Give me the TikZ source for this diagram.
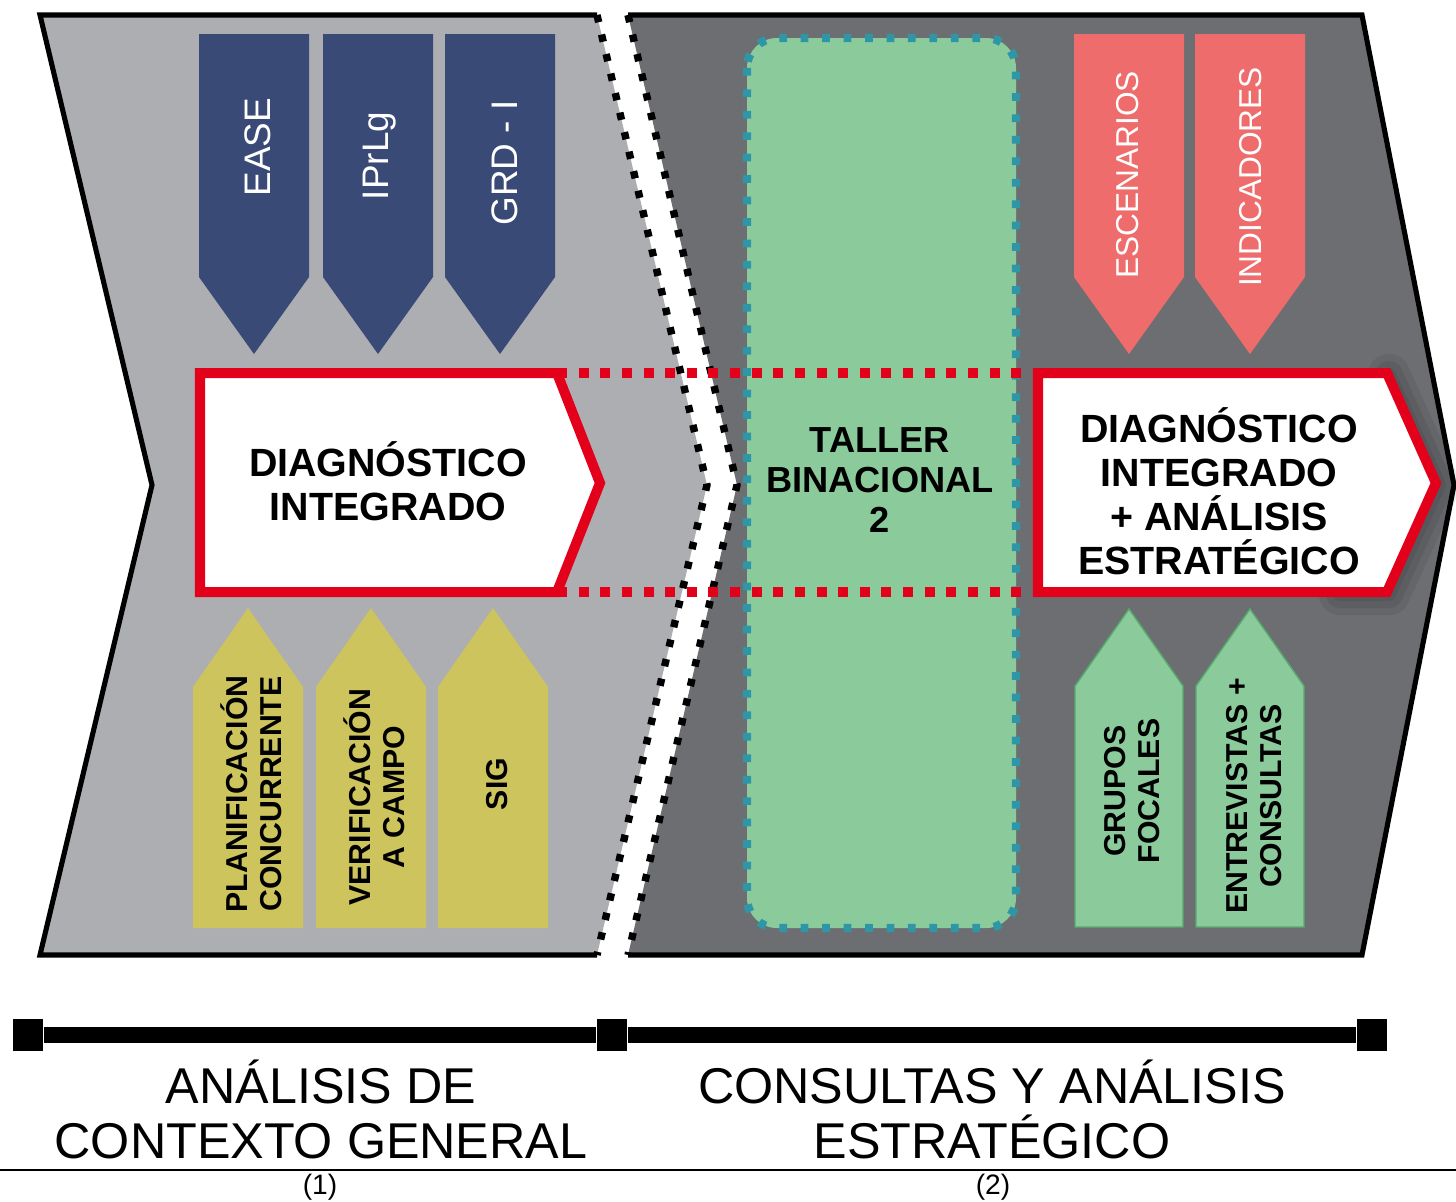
\documentclass[tikz,border=0pt]{standalone}
\usepackage{fontspec}
\setmainfont{Liberation Sans}
\usetikzlibrary{positioning}

\definecolor{lightpanel}{RGB}{173,174,177}
\definecolor{darkpanel}{RGB}{109,110,113}
\definecolor{navyarrow}{RGB}{57,74,118}
\definecolor{mustard}{RGB}{205,196,94}
\definecolor{salmon}{RGB}{238,108,108}
\definecolor{mint}{RGB}{139,203,155}
\definecolor{mintline}{RGB}{86,170,110}
\definecolor{tealdot}{RGB}{46,150,166}
\definecolor{diagred}{RGB}{227,0,27}

\tikzset{
  rim/.style={line width=1.45pt},
  sepdots/.style={line width=2.1pt, dash pattern=on 2.1pt off 3.6pt},
  reddots/.style={draw=diagred, line width=2.85pt, dash pattern=on 2.85pt off 3.3pt},
  diagbox/.style={draw=diagred, fill=white, line width=2.85pt},
  toplbl/.style={rotate=90, white, font=\fontsize{10.5}{12}\selectfont},
  sidelbl/.style={rotate=90, align=center, font=\bfseries\fontsize{8.6}{9.7}\selectfont},
  boxlbl/.style={align=center, font=\bfseries\fontsize{11.2}{12.5}\selectfont},
  phasetick/.style={fill=black, inner sep=0pt, minimum width=8.5pt, minimum height=9.1pt},
  phaselbl/.style={align=center, font=\fontsize{14.3}{15.6}\selectfont},
}

\begin{document}
\begin{tikzpicture}[x=0.01cm, y=-0.01cm]
  \useasboundingbox (0,0) rectangle (1456,1202);

  % phase panels
  \fill[lightpanel] (40,15) -- (597,15) -- (707,485) -- (597,955) -- (40,955) -- (152,485) -- cycle;
  \fill[darkpanel] (628,15) -- (1362,15) -- (1454,485) -- (1362,955) -- (628,955) -- (737,485) -- cycle;
  \draw[rim] (597,15) -- (40,15) -- (152,485) -- (40,955) -- (597,955);
  \draw[rim] (628,15) -- (1362,15) -- (1454,485) -- (1362,955) -- (628,955);
  \draw[sepdots] (597,15) -- (707,485) -- (597,955);
  \draw[sepdots] (628,15) -- (737,485) -- (628,955);

  % taller
  \draw[tealdot, fill=mint, line width=2.4pt, dash pattern=on 2.2pt off 3.9pt, rounded corners=8.5pt]
    (747,38) rectangle (1016,928);
  \node[boxlbl, font=\bfseries\fontsize{10.3}{11.4}\selectfont] (taller) at (880,480) {TALLER\\BINACIONAL\\2};

  % diagnostico boxes
  \coordinate (d1n) at (557,373);
  \coordinate (d1s) at (557,592);
  \coordinate (d2n) at (1038,373);
  \coordinate (d2s) at (1038,592);
  \draw[reddots] (d1n) -- (d2n);
  \draw[reddots] (d1s) -- (d2s);
  \draw[diagbox] (200,373) -- (d1n) -- (600,483) -- (d1s) -- (200,592) -- cycle;
  \foreach \w in {12,8,4}
    \draw[black, opacity=0.07, line width=\w pt, line join=round, line cap=round] (1389,375) -- (1439,485) -- (1389,594) -- (1340,594);
  \draw[diagbox] (d2n) -- (1387,373) -- (1436,483) -- (1387,592) -- (d2s) -- cycle;
  \node[boxlbl] (diag1) at (388,481) {DIAGNÓSTICO\\INTEGRADO};
  \node[boxlbl] (diag2) at (1219,491) {DIAGNÓSTICO\\INTEGRADO\\+ ANÁLISIS\\ESTRATÉGICO};

  % arrows
  \foreach \x/\c in {254/navyarrow, 378/navyarrow, 500/navyarrow, 1129/salmon, 1250/salmon}
    \fill[\c] (\x-55,34) -- (\x+55,34) -- (\x+55,277) -- (\x,354) -- (\x-55,277) -- cycle;
  \foreach \x in {248,371,493}
    \fill[mustard] (\x-55,928) -- (\x+55,928) -- (\x+55,687) -- (\x,608) -- (\x-55,687) -- cycle;
  \foreach \x in {1129,1250}
    \draw[mintline, fill=mint, line width=0.4pt] (\x-54,927) -- (\x+54,927) -- (\x+54,686) -- (\x,609) -- (\x-54,686) -- cycle;

  \node[toplbl] (ease)  at (258,147) {EASE};
  \node[toplbl] (iprlg) at (380,156) {IPrLg};
  \node[toplbl] (grd)   at (505,163) {GRD - I};
  \node[toplbl, font=\fontsize{9}{10}\selectfont] (escen) at (1128,175) {ESCENARIOS};
  \node[toplbl, font=\fontsize{9}{10}\selectfont] (indic) at (1251,177) {INDICADORES};
  \node[sidelbl] (plan)   at (251,794)  {PLANIFICACIÓN\\CONCURRENTE};
  \node[sidelbl] (verif)  at (374,797)  {VERIFICACIÓN\\A CAMPO};
  \node[sidelbl] (sig)    at (497,784)  {SIG};
  \node[sidelbl] (grupos) at (1132,791) {GRUPOS\\FOCALES};
  \node[sidelbl] (entrev) at (1254,796) {ENTREVISTAS +\\CONSULTAS};

  % timeline
  \node[phasetick] (t1) at (28,1035) {};
  \node[phasetick] (t2) at (612,1035) {};
  \node[phasetick] (t3) at (1372,1035) {};
  \draw[line width=4.3pt] (t1) -- (t2) -- (t3);
  \node[phaselbl] (fase1) at (321,1109) {ANÁLISIS DE\\CONTEXTO GENERAL};
  \node[phaselbl] (fase2) at (992,1109) {CONSULTAS Y ANÁLISIS\\ESTRATÉGICO};
  \draw[line width=0.6pt] (0,1170) -- (1456,1170);
  \node[font=\fontsize{8}{9}\selectfont] (num1) at (320,1187) {(1)};
  \node[font=\fontsize{8}{9}\selectfont] (num2) at (993,1187) {(2)};
\end{tikzpicture}
\end{document}
